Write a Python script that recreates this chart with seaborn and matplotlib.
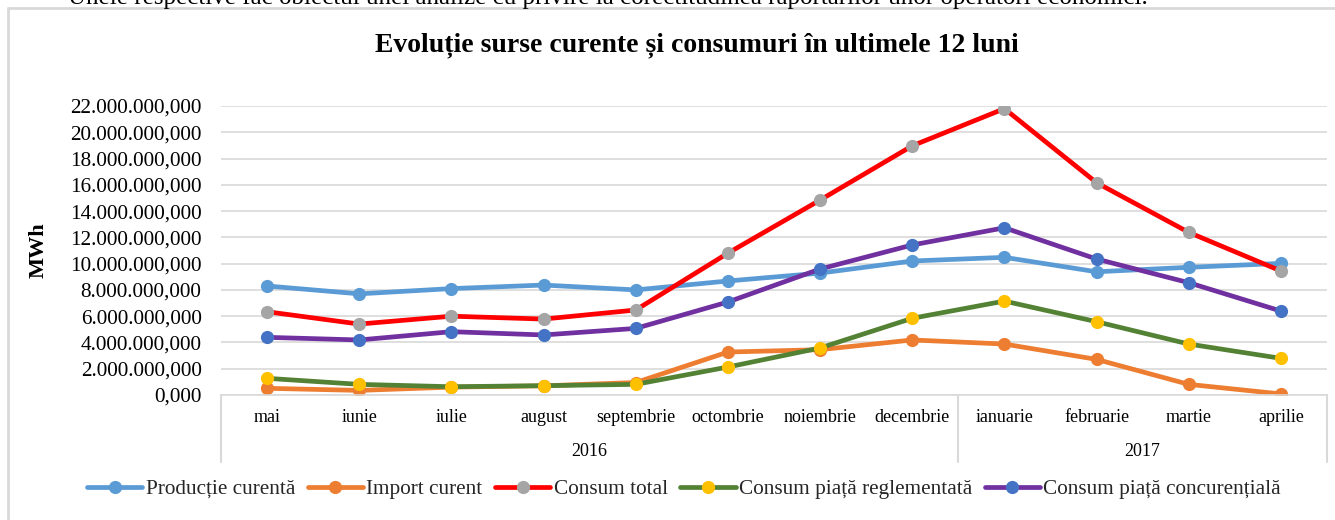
import matplotlib
matplotlib.use("Agg")
import matplotlib.pyplot as plt
from matplotlib.lines import Line2D
from matplotlib.ticker import FuncFormatter
import seaborn as sns
import pandas as pd

# Date (milioane MWh)
luni = ['mai', 'iunie', 'iulie', 'august', 'septembrie', 'octombrie', 'noiembrie',
        'decembrie', 'ianuarie', 'februarie', 'martie', 'aprilie']
ani = ['2016', '2017']
luni_pe_an = [8, 4]

productie = [8.30, 7.70, 8.10, 8.37, 8.00, 8.68, 9.28, 10.20, 10.48, 9.38, 9.72, 10.02]
import_curent = [0.51, 0.35, 0.60, 0.70, 0.95, 3.27, 3.45, 4.19, 3.88, 2.71, 0.81, 0.08]
consum_total = [6.34, 5.40, 6.00, 5.78, 6.47, 10.80, 14.84, 18.97, 21.80, 16.16, 12.38, 9.44]
consum_regl = [1.27, 0.81, 0.63, 0.71, 0.81, 2.13, 3.58, 5.84, 7.15, 5.58, 3.88, 2.79]
consum_conc = [4.39, 4.19, 4.82, 4.57, 5.07, 7.08, 9.59, 11.42, 12.73, 10.35, 8.55, 6.39]

serii = ['Producție curentă', 'Import curent', 'Consum total',
         'Consum piață reglementată', 'Consum piață concurențială']
valori = [productie, import_curent, consum_total, consum_regl, consum_conc]
culori_linie = ['#5B9BD5', '#ED7D31', '#FF0000', '#548235', '#7030A0']
culori_marker = ['#5B9BD5', '#ED7D31', '#A5A5A5', '#FFC000', '#4472C4']

df = pd.DataFrame({'luna': luni})
for s, v in zip(serii, valori):
    df[s] = v
df['poz'] = range(len(luni))

sns.set_theme(style="white")
plt.rcParams['font.family'] = ['Liberation Serif', 'DejaVu Serif']

fig = plt.figure(figsize=(13.35, 5.2), dpi=100)
ax = fig.add_axes([221 / 1335, 1 - 395 / 520, 1106 / 1335, 289 / 520])

for s, cl, cm in zip(serii, culori_linie, culori_marker):
    sns.lineplot(data=df, x='poz', y=s, ax=ax, color=cl, linewidth=3.4,
                 marker='o', markersize=9.5, markerfacecolor=cm,
                 markeredgecolor=cm, markeredgewidth=0, label=s)

ax.set_xlim(-0.5, len(luni) - 0.5)
ax.set_ylim(0, 22)
ax.set_yticks(range(0, 23, 2))
ax.yaxis.set_major_formatter(FuncFormatter(
    lambda v, p: f"{v * 1e6:,.3f}".replace(',', 'X').replace('.', ',').replace('X', '.')))
ax.set_xticks(df['poz'])
ax.set_xticklabels(luni, fontsize=13)
ax.tick_params(axis='y', labelsize=15.3, length=0, pad=14, colors='black')
ax.tick_params(axis='x', length=0, pad=10, colors='black')
ax.grid(axis='y', color='#D9D9D9', linewidth=1.2)
ax.set_axisbelow(True)
for sp in ['top', 'right', 'left']:
    ax.spines[sp].set_visible(False)
ax.spines['bottom'].set_color('#D9D9D9')
ax.spines['bottom'].set_linewidth(1.2)

ax.set_xlabel('')
ax.set_ylabel('MWh', fontsize=16, fontweight='bold', color='black')
ax.yaxis.set_label_coords(-0.156, 0.5)

# axa de categorii pe doua niveluri
trans = ax.get_xaxis_transform()
start = 0
granite = [-0.5]
for an, n in zip(ani, luni_pe_an):
    ax.text(start + (n - 1) / 2, -0.194, an, transform=trans, ha='center', va='center',
            fontsize=13, color='black')
    start += n
    granite.append(start - 0.5)
for g in granite:
    ax.plot([g, g], [0, -0.232], transform=trans, color='#D9D9D9', linewidth=1.5,
            clip_on=False)

fig.text(697 / 1335, 1 - 45 / 520, 'Evoluție surse curente și consumuri în ultimele 12 luni',
         fontsize=20, fontweight='bold', color='black', ha='center', va='center')

ax.legend(loc='center', bbox_to_anchor=(684 / 1335, 1 - 489 / 520),
          bbox_transform=fig.transFigure, ncol=5, frameon=False, fontsize=15.3,
          handlelength=2.6, handletextpad=0.15, columnspacing=0.6, borderaxespad=0)

# chenarul graficului si textul taiat de deasupra
fig.add_artist(Line2D([8 / 1335, 1], [1 - 8 / 520, 1 - 8 / 520], color='#D9D9D9', linewidth=2))
fig.add_artist(Line2D([8 / 1335, 8 / 1335], [0, 1 - 8 / 520], color='#D9D9D9', linewidth=2))
fig.text(68 / 1335, 1 - 4 / 520,
         'Unele respective fac obiectul unei analize cu privire la corectitudinea raportărilor unor operatori economici.',
         fontsize=18, va='baseline', ha='left', color='black')

fig.savefig('out.png', dpi=100, facecolor='white')
